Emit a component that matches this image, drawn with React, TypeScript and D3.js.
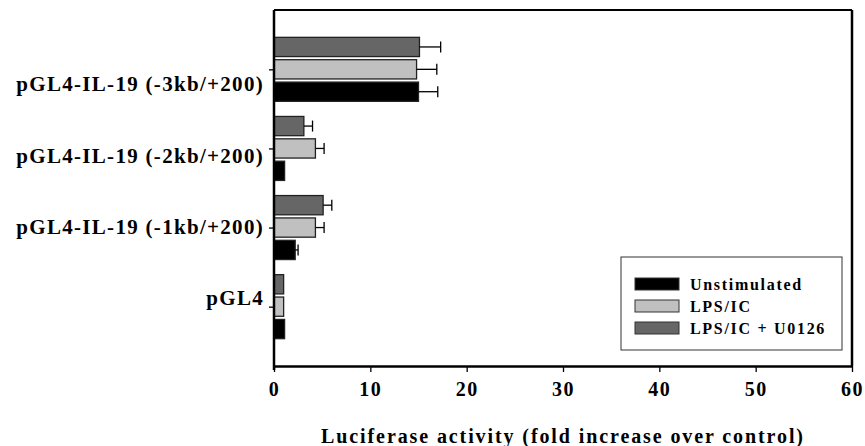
import React, { useEffect, useRef } from 'react';
import * as d3 from 'd3';

const categories = [
  'pGL4-IL-19 (-3kb/+200)',
  'pGL4-IL-19 (-2kb/+200)',
  'pGL4-IL-19 (-1kb/+200)',
  'pGL4',
];
const seriesNames = ['LPS/IC + U0126', 'LPS/IC', 'Unstimulated'];
const u0126 = [15.1, 3.1, 5.1, 1.0];
const u0126Err = [2.2, 0.9, 0.9, 0];
const lpsIc = [14.8, 4.3, 4.3, 1.0];
const lpsIcErr = [2.1, 0.9, 0.9, 0];
const unstimulated = [15.0, 1.1, 2.2, 1.1];
const unstimulatedErr = [2.0, 0, 0.3, 0];
const xTicks = [0, 10, 20, 30, 40, 50, 60];
const legendOrder = ['Unstimulated', 'LPS/IC', 'LPS/IC + U0126'];

const colors: Record<string, string> = {
  'LPS/IC + U0126': '#666666',
  'LPS/IC': '#c0c0c0',
  Unstimulated: '#000000',
};

const FONT = '"Liberation Serif", "Times New Roman", serif';

function App() {
  const svgRef = useRef<SVGSVGElement>(null);
  const width = 865;
  const height = 446;

  useEffect(() => {
    const svg = d3.select(svgRef.current);
    svg.selectAll('*').remove();

    const margin = { top: 10, right: 13, bottom: 80, left: 274 };
    const x0 = margin.left;
    const x1 = width - margin.right;
    const y0 = margin.top;
    const y1 = height - margin.bottom;

    const xScale = d3.scaleLinear().domain([0, 60]).range([x0, x1]);
    const yGroup = d3.scalePoint<string>().domain(categories).range([y0, y1]).padding(0.75);
    const yBar = d3.scaleBand<string>().domain(seriesNames).range([-32, 32]).paddingInner(0.14);
    const yLabel = d3.scalePoint<string>().domain(categories).range([84, 298]);

    const values: Record<string, number[]> = {
      'LPS/IC + U0126': u0126,
      'LPS/IC': lpsIc,
      Unstimulated: unstimulated,
    };
    const errors: Record<string, number[]> = {
      'LPS/IC + U0126': u0126Err,
      'LPS/IC': lpsIcErr,
      Unstimulated: unstimulatedErr,
    };

    const rows = categories.flatMap((c, i) =>
      seriesNames.map(s => ({ cat: c, series: s, value: values[s][i], err: errors[s][i] }))
    );

    // bars
    svg.append('g')
      .selectAll('rect')
      .data(rows)
      .enter()
      .append('rect')
      .attr('x', xScale(0))
      .attr('y', d => yGroup(d.cat)! + yBar(d.series)!)
      .attr('width', d => xScale(d.value) - xScale(0))
      .attr('height', yBar.bandwidth())
      .attr('fill', d => colors[d.series])
      .attr('stroke', '#222')
      .attr('stroke-width', 1.3);

    // error bars (positive side only)
    const errG = svg.append('g').attr('stroke', '#000').attr('stroke-width', 1.3);
    rows.filter(d => d.err > 0).forEach(d => {
      const cy = yGroup(d.cat)! + yBar(d.series)! + yBar.bandwidth() / 2;
      errG.append('line')
        .attr('x1', xScale(d.value)).attr('x2', xScale(d.value + d.err))
        .attr('y1', cy).attr('y2', cy);
      errG.append('line')
        .attr('x1', xScale(d.value + d.err)).attr('x2', xScale(d.value + d.err))
        .attr('y1', cy - 5.5).attr('y2', cy + 5.5);
    });

    // frame
    svg.append('line').attr('x1', x0).attr('x2', x1).attr('y1', y0).attr('y2', y0)
      .attr('stroke', '#000').attr('stroke-width', 2);
    svg.append('line').attr('x1', x1).attr('x2', x1).attr('y1', y0).attr('y2', y1)
      .attr('stroke', '#000').attr('stroke-width', 2.5);

    // x axis
    const xAxis = svg.append('g')
      .attr('transform', `translate(0, ${y1})`)
      .call(d3.axisBottom(xScale).tickValues(xTicks).tickSize(6).tickSizeOuter(0).tickPadding(10));
    xAxis.select('.domain').attr('stroke-width', 2.5);
    xAxis.selectAll('.tick line').attr('stroke-width', 1.3);
    xAxis.selectAll('text')
      .style('font-family', FONT)
      .style('font-weight', 'bold')
      .style('font-size', '20px')
      .style('letter-spacing', '1.5px');

    // y axis
    const yAxis = svg.append('g')
      .attr('transform', `translate(${x0}, 0)`)
      .call(d3.axisLeft(yGroup).tickSize(5).tickSizeOuter(0).tickFormat(() => ''));
    yAxis.select('.domain').attr('stroke-width', 2.5).attr('d', `M0,${y0}V${y1 + 4}`);
    yAxis.selectAll('.tick line').attr('stroke-width', 1.3);

    svg.append('g')
      .selectAll('text')
      .data(categories)
      .enter()
      .append('text')
      .attr('x', 264)
      .attr('y', d => yLabel(d)!)
      .attr('dy', '0.35em')
      .attr('text-anchor', 'end')
      .style('font-family', FONT)
      .style('font-weight', 'bold')
      .style('font-size', '21px')
      .style('letter-spacing', '1.3px')
      .text(d => d);

    // axis title
    svg.append('text')
      .attr('x', (x0 + x1) / 2)
      .attr('y', 436)
      .attr('dy', '0.35em')
      .attr('text-anchor', 'middle')
      .style('font-family', FONT)
      .style('font-weight', 'bold')
      .style('font-size', '20px')
      .style('letter-spacing', '1.9px')
      .text('Luciferase activity (fold increase over control)');

    // legend
    const legend = svg.append('g');
    legend.append('rect')
      .attr('x', 621).attr('y', 257).attr('width', 221).attr('height', 93)
      .attr('fill', '#fff').attr('stroke', '#333').attr('stroke-width', 1);
    legendOrder.forEach((name, i) => {
      const ly = 278 + i * 22;
      legend.append('rect')
        .attr('x', 635).attr('y', ly).attr('width', 44).attr('height', 12)
        .attr('fill', colors[name]).attr('stroke', '#333').attr('stroke-width', 1);
      legend.append('text')
        .attr('x', 690).attr('y', ly + 6).attr('dy', '0.35em')
        .style('font-family', FONT)
        .style('font-weight', 'bold')
        .style('font-size', '16px')
        .style('letter-spacing', '1.7px')
        .text(name);
    });
  }, []);

  return (
    <svg
      ref={svgRef}
      width={width}
      height={height}
      style={{ position: 'absolute', left: 0, top: 0, background: '#fff' }}
    ></svg>
  );
}

export default App;
